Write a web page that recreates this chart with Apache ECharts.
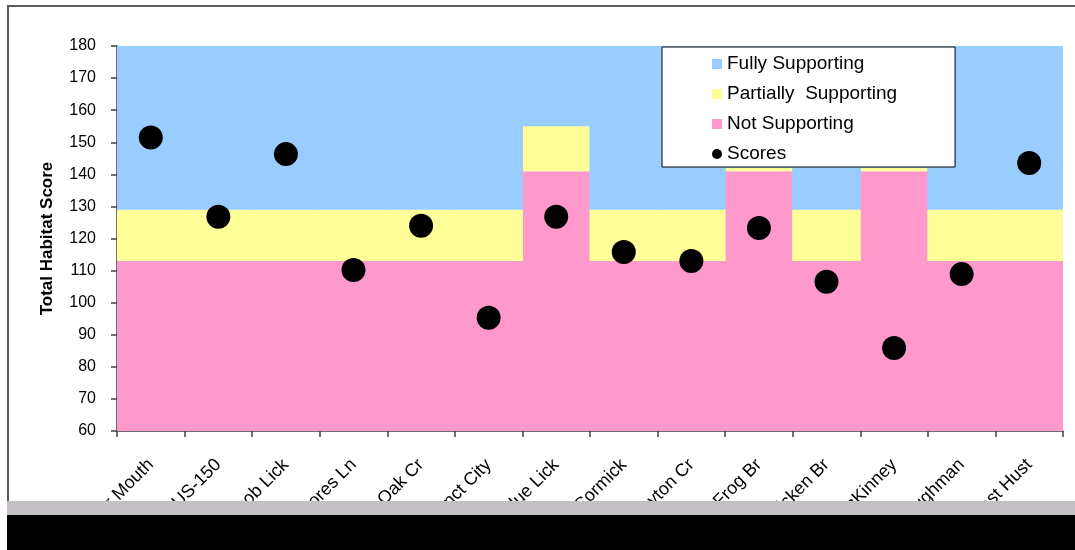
<!DOCTYPE html>
<html>
<head>
<meta charset="utf-8">
<title>Total Habitat Score</title>
<script src="https://cdn.jsdelivr.net/npm/echarts@6/dist/echarts.min.js"></script>
<style>
  html, body { margin: 0; padding: 0; background: #ffffff; }
  #chart { width: 1075px; height: 550px; }
</style>
</head>
<body>
<div id="chart"></div>
<script>
// Sampling sites along the stream
const sites = [
  'Lower Mouth', 'US-150', 'Jacob Lick', 'Moores Ln', 'Oak Cr', 'Junct City', 'Blue Lick',
  'McCormick', 'Clayton Cr', 'Frog Br', 'Chicken Br', 'McKinney', 'Baughman', 'West Hust'
];

// Habitat criteria bands (upper limit of each band at every site)
const notSupportingTop = [113, 113, 113, 113, 113, 113, 141, 113, 113, 141, 113, 141, 113, 113];
const partiallyTop     = [129, 129, 129, 129, 129, 129, 155, 129, 129, 142, 129, 142, 129, 129];
const fullyTop         = [180, 180, 180, 180, 180, 180, 180, 180, 180, 180, 180, 180, 180, 180];

// Measured total habitat scores
const scores = [151.5, 126.8, 146.3, 110.2, 124, 95.3, 126.8, 115.8, 113, 123.3, 106.5, 85.9, 108.9, 143.5];

// Y axis range
const yMin = 60, yMax = 180, yStep = 10;

const COLORS = { fully: '#99CCFF', partial: '#FFFF99', not: '#FF99CC', dot: '#000000' };

// Band thicknesses for the stacked bars
const partialBand = partiallyTop.map((v, i) => v - notSupportingTop[i]);
const fullyBand = fullyTop.map((v, i) => v - partiallyTop[i]);

const chart = echarts.init(document.getElementById('chart'), null, { renderer: 'canvas' });

const font = 'Arial, "Liberation Sans", sans-serif';

// bars slightly wider than a category so neighbouring columns meet without seams
const BAR_W = 68.6;

chart.setOption({
  animation: false,
  backgroundColor: '#ffffff',
  grid: { left: 117, top: 46, right: 12, bottom: 119, containLabel: false },
  legend: {
    orient: 'vertical',
    left: 662,
    top: 47,
    backgroundColor: '#ffffff',
    borderColor: '#000000',
    borderWidth: 1,
    borderRadius: 0,
    padding: [7, 58, 3, 50],
    itemGap: 10,
    itemWidth: 10,
    itemHeight: 10,
    selectedMode: false,
    textStyle: { fontFamily: font, fontSize: 19, color: '#000000', lineHeight: 20 },
    data: [
      { name: 'Fully Supporting', icon: 'rect' },
      { name: 'Partially  Supporting', icon: 'rect' },
      { name: 'Not Supporting', icon: 'rect' },
      { name: 'Scores', icon: 'circle' }
    ]
  },
  xAxis: {
    type: 'category',
    data: sites,
    boundaryGap: true,
    axisLine: { show: true, lineStyle: { color: '#404040', width: 1.5 } },
    axisTick: { show: true, length: 6, alignWithLabel: false, lineStyle: { color: '#404040', width: 1.5 } },
    axisLabel: {
      interval: 0,
      rotate: 45,
      margin: 31,
      fontFamily: font,
      fontSize: 18,
      color: '#000000'
    },
    splitLine: { show: false }
  },
  yAxis: {
    type: 'value',
    min: yMin,
    max: yMax,
    interval: yStep,
    name: 'Total Habitat Score',
    nameLocation: 'middle',
    nameGap: 61,
    nameRotate: 90,
    nameTextStyle: { fontFamily: font, fontSize: 17, fontWeight: 'bold', color: '#000000' },
    axisLine: { show: true, lineStyle: { color: '#404040', width: 1.5 } },
    axisTick: { show: true, length: 6, lineStyle: { color: '#404040', width: 1.5 } },
    axisLabel: { margin: 21, fontFamily: font, fontSize: 16, color: '#000000' },
    splitLine: { show: false }
  },
  series: [
    {
      name: 'Not Supporting',
      type: 'bar',
      stack: 'bands',
      data: notSupportingTop,
      barWidth: BAR_W,
      itemStyle: { color: COLORS.not },
      z: 1
    },
    {
      name: 'Partially  Supporting',
      type: 'bar',
      stack: 'bands',
      data: partialBand,
      barWidth: BAR_W,
      itemStyle: { color: COLORS.partial },
      z: 1
    },
    {
      name: 'Fully Supporting',
      type: 'bar',
      stack: 'bands',
      data: fullyBand,
      barWidth: BAR_W,
      itemStyle: { color: COLORS.fully },
      z: 1
    },
    {
      name: 'Scores',
      type: 'scatter',
      data: scores,
      symbol: 'circle',
      symbolSize: 24,
      itemStyle: { color: COLORS.dot, opacity: 1 },
      z: 3
    }
  ],
  graphic: [
    // outer chart frame (top and left edges)
    {
      type: 'polyline',
      shape: { points: [[8, 515], [8, 6], [1075, 6]] },
      style: { stroke: '#5a5a5a', lineWidth: 2, fill: null },
      z: 10
    },
    // grainy strip along the bottom edge
    {
      type: 'rect',
      shape: { x: 7, y: 501, width: 1068, height: 14 },
      style: { fill: '#c4bfc4' },
      z: 10
    },
    // dark strip at the very bottom
    {
      type: 'rect',
      shape: { x: 7, y: 515, width: 1068, height: 35 },
      style: { fill: '#000000' },
      z: 10
    }
  ]
});
</script>
</body>
</html>
